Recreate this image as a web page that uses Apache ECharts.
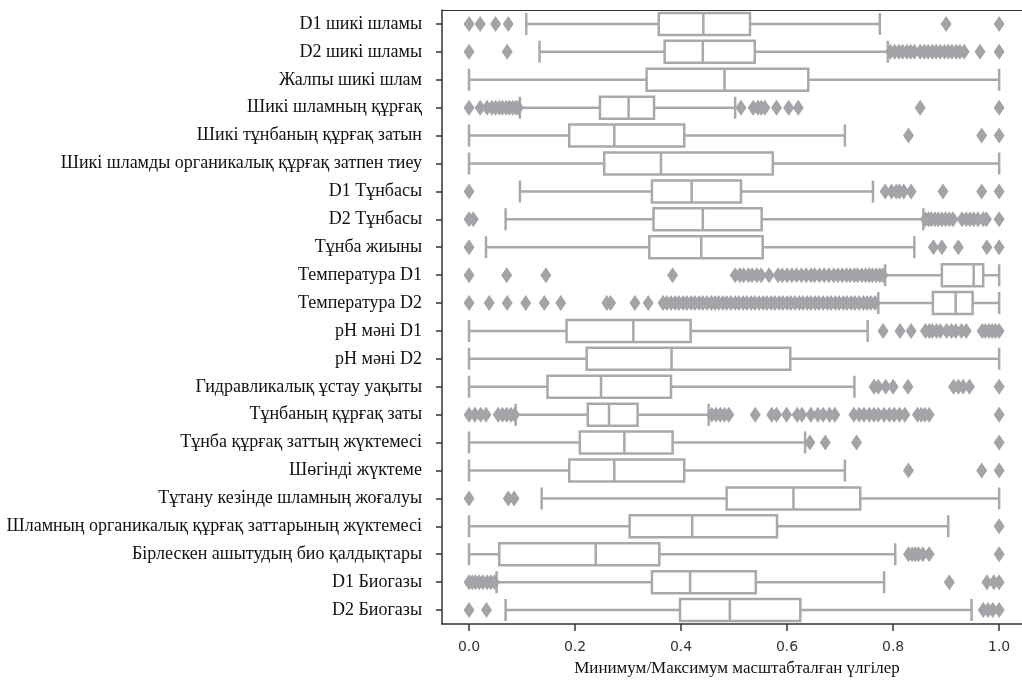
<!DOCTYPE html>
<html>
<head>
<meta charset="utf-8">
<script src="https://cdn.jsdelivr.net/npm/echarts@6/dist/echarts.min.js"></script>
<style>
  html, body { margin: 0; padding: 0; background: #fff; }
  #chart { width: 1022px; height: 680px; }
</style>
</head>
<body>
<div id="chart"></div>
<script>
// категориялар (жоғарыдан төмен)
const categories = [
  'D1 шикі шламы', 'D2 шикі шламы', 'Жалпы шикі шлам', 'Шикі шламның құрғақ',
  'Шикі тұнбаның құрғақ затын', 'Шикі шламды органикалық құрғақ затпен тиеу',
  'D1 Тұнбасы', 'D2 Тұнбасы', 'Тұнба жиыны', 'Температура D1', 'Температура D2',
  'pH мәні D1', 'pH мәні D2', 'Гидравликалық ұстау уақыты', 'Тұнбаның құрғақ заты',
  'Тұнба құрғақ заттың жүктемесі', 'Шөгінді жүктеме', 'Тұтану кезінде шламның жоғалуы',
  'Шламның органикалық құрғақ заттарының жүктемесі', 'Бірлескен ашытудың био қалдықтары',
  'D1 Биогазы', 'D2 Биогазы'
];

// [min, Q1, median, Q3, max]
const boxes = [
  [0.108, 0.358, 0.442, 0.530, 0.775],
  [0.133, 0.369, 0.441, 0.539, 0.790],
  [0.000, 0.335, 0.482, 0.640, 1.000],
  [0.096, 0.247, 0.301, 0.349, 0.502],
  [0.000, 0.189, 0.274, 0.406, 0.709],
  [0.000, 0.255, 0.362, 0.573, 1.000],
  [0.096, 0.345, 0.420, 0.513, 0.762],
  [0.069, 0.348, 0.441, 0.552, 0.857],
  [0.032, 0.340, 0.438, 0.554, 0.840],
  [0.785, 0.892, 0.952, 0.970, 1.000],
  [0.772, 0.875, 0.918, 0.950, 1.000],
  [0.000, 0.184, 0.310, 0.418, 0.752],
  [0.000, 0.222, 0.382, 0.606, 1.000],
  [0.000, 0.148, 0.249, 0.381, 0.727],
  [0.088, 0.224, 0.264, 0.318, 0.452],
  [0.000, 0.209, 0.293, 0.384, 0.634],
  [0.000, 0.189, 0.274, 0.406, 0.709],
  [0.137, 0.486, 0.612, 0.738, 1.000],
  [0.000, 0.303, 0.421, 0.581, 0.904],
  [0.000, 0.057, 0.239, 0.359, 0.804],
  [0.052, 0.345, 0.417, 0.541, 0.783],
  [0.069, 0.398, 0.492, 0.625, 0.948]
];

// шығыңқы мәндер, әр категорияға
const outliers = [
  [0.0, 0.021, 0.05, 0.074, 0.900, 1.0],
  [0.0, 0.072, 0.795, 0.803, 0.811, 0.818, 0.826, 0.833, 0.840, 0.851, 0.859, 0.866, 0.874, 0.881,
   0.889, 0.897, 0.904, 0.911, 0.919, 0.926, 0.934, 0.964, 1.0],
  [],
  [0.0, 0.021, 0.034, 0.043, 0.05, 0.057, 0.063, 0.07, 0.076, 0.082, 0.088, 0.093,
   0.513, 0.536, 0.545, 0.551, 0.558, 0.580, 0.603, 0.621, 0.851, 1.0],
  [0.829, 0.967, 1.0],
  [],
  [0.0, 0.785, 0.797, 0.806, 0.812, 0.820, 0.834, 0.894, 0.967, 1.0],
  [0.0, 0.008, 0.861, 0.867, 0.872, 0.879, 0.885, 0.892, 0.899, 0.906, 0.913, 0.930, 0.938,
   0.945, 0.952, 0.960, 0.970, 0.976, 1.0],
  [0.0, 0.876, 0.892, 0.923, 0.977, 1.0],
  [0.0, 0.071, 0.145, 0.384, 0.502, 0.511, 0.518, 0.527, 0.534, 0.543, 0.551, 0.566, 0.583, 0.591,
   0.600, 0.609, 0.618, 0.627, 0.636, 0.645, 0.652, 0.661, 0.670, 0.679, 0.688, 0.696, 0.704,
   0.712, 0.719, 0.727, 0.733, 0.741, 0.748, 0.755, 0.761, 0.768, 0.775, 0.781],
  [0.0, 0.038, 0.072, 0.107, 0.142, 0.173, 0.260, 0.267, 0.313, 0.338, 0.366, 0.373, 0.381, 0.389,
   0.396, 0.404, 0.411, 0.419, 0.426, 0.434, 0.441, 0.449, 0.457, 0.464, 0.471, 0.479, 0.486,
   0.494, 0.502, 0.509, 0.517, 0.524, 0.532, 0.539, 0.547, 0.555, 0.562, 0.570, 0.577, 0.585,
   0.592, 0.600, 0.607, 0.615, 0.623, 0.630, 0.638, 0.645, 0.653, 0.660, 0.668, 0.676, 0.683,
   0.691, 0.698, 0.706, 0.713, 0.721, 0.728, 0.736, 0.744, 0.751, 0.758, 0.766],
  [0.781, 0.813, 0.834, 0.861, 0.868, 0.874, 0.882, 0.889, 0.901, 0.910, 0.918, 0.929, 0.938,
   0.968, 0.974, 0.981, 0.987, 0.993, 1.0],
  [],
  [0.764, 0.772, 0.786, 0.800, 0.828, 0.914, 0.923, 0.932, 0.944, 1.0],
  [0.0, 0.011, 0.022, 0.032, 0.055, 0.063, 0.071, 0.079, 0.086, 0.458, 0.466, 0.474, 0.482,
   0.490, 0.540, 0.571, 0.580, 0.599, 0.619, 0.628, 0.645, 0.658, 0.668, 0.680, 0.690,
   0.726, 0.736, 0.745, 0.755, 0.764, 0.772, 0.783, 0.793, 0.802, 0.812, 0.822,
   0.846, 0.853, 0.860, 0.868, 1.0],
  [0.643, 0.672, 0.731, 1.0],
  [0.829, 0.967, 1.0],
  [0.0, 0.074, 0.085],
  [1.0],
  [0.829, 0.836, 0.842, 0.848, 0.856, 0.868, 1.0],
  [0.0, 0.006, 0.012, 0.019, 0.026, 0.034, 0.041, 0.048, 0.906, 0.977, 0.990, 1.0],
  [0.0, 0.033, 0.970, 0.979, 0.988, 1.0]
];

const xTicks = [0, 0.2, 0.4, 0.6, 0.8, 1.0];

const boxColor = '#a9a9ac';
const dotColor = '#a4a4a8';
const axisColor = '#333';

let outlierPoints = [];
outliers.forEach((list, i) => {
  list.forEach(v => outlierPoints.push([v, i]));
});

const chart = echarts.init(document.getElementById('chart'));
chart.setOption({
  animation: false,
  backgroundColor: '#fff',
  grid: {
    left: 442,
    top: 10,
    width: 590,
    height: 614,
    show: false,
    containLabel: false,
    outerBoundsMode: 'none'
  },
  xAxis: [
    {
      type: 'value',
      min: -0.051,
      max: 1.062,
      splitLine: { show: false },
      axisLine: { show: true, onZero: false, lineStyle: { color: axisColor, width: 1.5 } },
      axisTick: { show: true, length: 7, customValues: xTicks, lineStyle: { color: axisColor, width: 1.5 } },
      axisLabel: {
        customValues: xTicks,
        formatter: v => v.toFixed(1),
        fontFamily: 'DejaVu Sans',
        fontSize: 14,
        color: '#333',
        margin: 16
      },
      name: 'Минимум/Максимум масштабталған үлгілер',
      nameLocation: 'middle',
      nameGap: 36,
      nameTextStyle: {
        fontFamily: 'Liberation Serif',
        fontSize: 17,
        color: '#111'
      }
    },
    {
      // жоғарғы жиек сызығы
      type: 'value',
      position: 'top',
      min: -0.051,
      max: 1.062,
      splitLine: { show: false },
      axisLine: { show: true, onZero: false, lineStyle: { color: axisColor, width: 1.2 } },
      axisTick: { show: false },
      axisLabel: { show: false }
    }
  ],
  yAxis: {
    type: 'category',
    data: categories,
    inverse: true,
    axisLine: { show: true, onZero: false, lineStyle: { color: axisColor, width: 1.5 } },
    axisTick: { show: true, alignWithLabel: true, length: 6, lineStyle: { color: axisColor, width: 1.5 } },
    axisLabel: {
      fontFamily: 'Liberation Serif',
      fontSize: 18,
      color: '#111',
      margin: 20
    },
    splitLine: { show: false }
  },
  series: [
    {
      type: 'boxplot',
      data: boxes,
      boxWidth: [22, 22],
      itemStyle: { color: '#fff', borderColor: boxColor, borderWidth: 2.5 },
      silent: true
    },
    {
      type: 'scatter',
      data: outlierPoints,
      symbol: 'diamond',
      symbolSize: [11, 16],
      itemStyle: { color: dotColor, opacity: 1 },
      silent: true
    }
  ]
});
</script>
</body>
</html>
